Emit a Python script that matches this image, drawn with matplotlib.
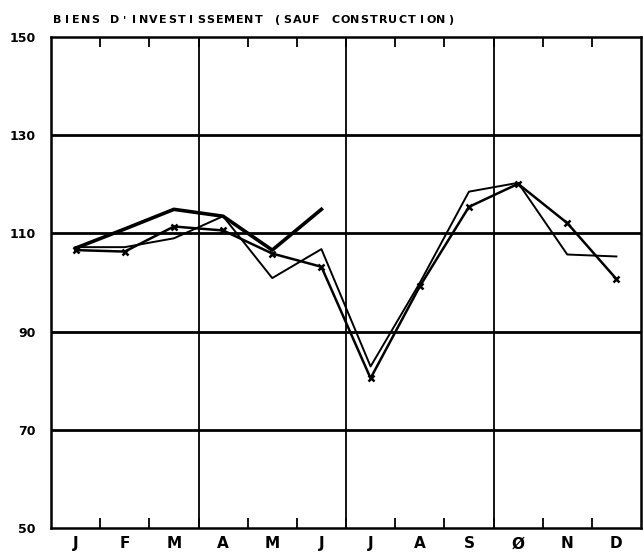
import numpy as np
import matplotlib.pyplot as plt

# monthly index, capital goods (excluding construction)
months = ['J', 'F', 'M', 'A', 'M', 'J', 'J', 'A', 'S', 'Ø', 'N', 'D']
series_thick = [107.0, 110.9, 114.9, 113.5, 106.6, 114.9]  # current year, stops in June
series_thin = [107.2, 107.2, 109.0, 113.5, 100.9, 106.8, 82.9, 99.9, 118.5, 120.3, 105.7, 105.3]
series_cross = [106.6, 106.3, 111.4, 110.6, 105.9, 103.2, 80.5, 99.2, 115.4, 120.1, 112.1, 100.7]
y_ticks = [50, 70, 90, 110, 130, 150]
title = "BIENS D'INVESTISSEMENT (SAUF CONSTRUCTION)"

fig = plt.figure(figsize=(6.43, 5.57), dpi=100)
ax = fig.add_axes([51 / 643, 29 / 557, 590 / 643, 491 / 557])

x = np.arange(12) + 0.5
ax.plot(x, series_thin, color='black', lw=1.4)
ax.plot(x, series_cross, color='black', lw=1.8, marker='x', ms=4.5, mew=1.8)
ax.plot(x[:len(series_thick)], series_thick, color='black', lw=2.6)

ax.set_xlim(0, 12)
ax.set_ylim(50, 150)

# grid: heavy horizontals, lighter quarter separators
for y in y_ticks[1:-1]:
    ax.axhline(y, color='black', lw=2.0, zorder=0)
for q in (3, 6, 9):
    ax.axvline(q, color='black', lw=1.3, zorder=0)

ax.set_yticks(y_ticks)
ax.set_yticklabels([str(v) for v in y_ticks], fontsize=9, fontweight='bold')
ax.tick_params(axis='y', length=0, pad=11)

# month ticks at boundaries, labels centered
ax.set_xticks(np.arange(1, 12))
ax.set_xticklabels([])
ax.set_xticks(x, minor=True)
ax.set_xticklabels(months, minor=True, fontsize=11, fontweight='bold')
ax.tick_params(axis='x', which='major', direction='in', length=7, width=1.3,
               top=True, bottom=True)
ax.tick_params(axis='x', which='minor', length=0, pad=6)

for s in ax.spines.values():
    s.set_linewidth(1.8)

# typewriter-like title: one character per fixed step
step = 9.6 / 643
for i, ch in enumerate(title):
    fig.text(57 / 643 + i * step, 1 - 20 / 557, ch,
             fontsize=8, fontweight='bold', va='center', ha='center')

fig.savefig('out.png', dpi=100)
